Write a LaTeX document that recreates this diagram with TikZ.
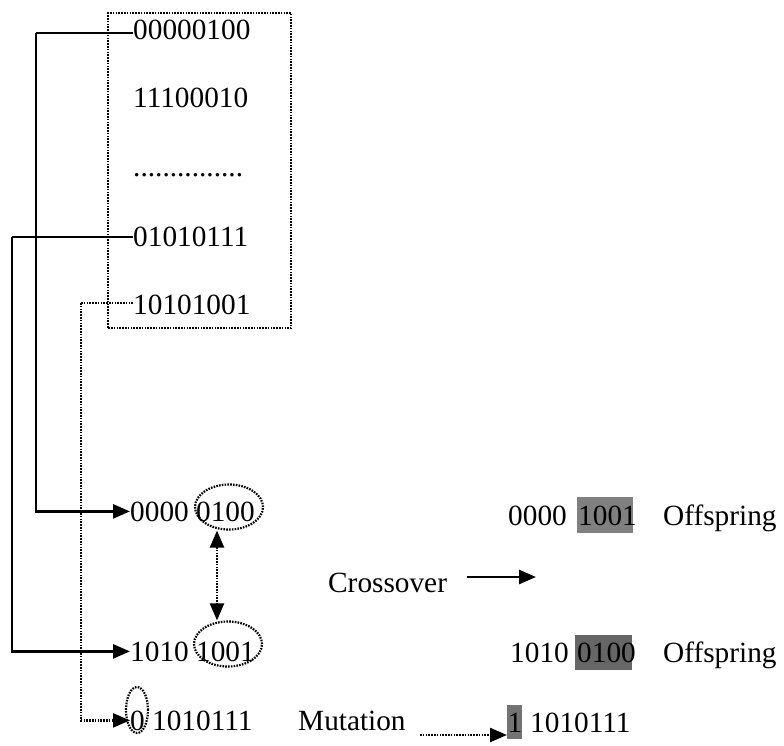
\documentclass[tikz,border=0pt]{standalone}
\usepackage{fontspec}
\setmainfont{Liberation Serif}
\usetikzlibrary{arrows.meta,shapes.geometric}
\begin{document}
\begin{tikzpicture}[x=1pt,y=-1pt,
  txt/.style={inner sep=0pt,anchor=base west,font=\fontsize{29.3}{34}\selectfont},
  solidline/.style={line width=2.6pt},
  dotline/.style={line width=2.2pt,dash pattern=on 1.6pt off 1.2pt},
  tip/.style={-{Triangle[length=17pt,width=14pt]}},
  shade/.style={inner sep=0pt,draw=none},
  ring/.style={ellipse,draw,dotline,inner sep=0pt}]
\useasboundingbox (0,0) rectangle (784,746);
% population box
\node[draw,dotline,minimum width=183pt,minimum height=315pt,inner sep=0pt,anchor=north west] (pop) at (107,12) {};
\node[txt] (p1) at (133,40) {00000100};
\node[txt] (p2) at (133,108) {11100010};
\node[txt] (p3) at (133,177) {...............};
\node[txt] (p4) at (133,246) {01010111};
\node[txt] (p5) at (133,314) {10101001};
% parents
\node[txt] (c1) at (130,521) {0000 0100};
\node[txt] (c2) at (130,661) {1010 1001};
\node[txt] (c3) at (130,730) {0 1010111};
\node[ring,minimum width=68pt,minimum height=45pt] (e1) at (229,507) {};
\node[ring,minimum width=68pt,minimum height=45pt] (e2) at (228,644) {};
\node[ring,minimum width=22pt,minimum height=46pt] (e3) at (137,710) {};
% connectors
\coordinate (k1) at (36,33);
\coordinate (k2) at (12,237);
\coordinate (k3) at (81,303);
\draw[solidline] (133,33) -- (k1);
\draw[solidline,tip] (k1) |- (c1.west);
\draw[solidline] (133,237) -- (k2);
\draw[solidline,tip] (k2) |- (c2.west);
\draw[dotline] (133,303) -- (k3);
\draw[dotline,tip] (k3) |- (c3.west);
\draw[dotline,{Triangle[length=17pt,width=14pt]}-{Triangle[length=17pt,width=14pt]}] (e1.south -| 217,0) -- (e2.north -| 217,0);
% crossover
\node[txt] (cx) at (328,592) {Crossover};
\coordinate (cxa) at (536,577);
\draw[solidline,tip] (467,577) -- (cxa);
% offspring 1
\node[txt] (o1a) at (508,525) {0000};
\node[shade,fill=black!50,minimum width=56pt,minimum height=36pt,anchor=north west] (o1b) at (577,497) {};
\node[txt] at (578,525) {1001};
\node[txt] (o1c) at (663,525) {Offspring};
% offspring 2
\node[txt] (o2a) at (510,662) {1010};
\node[shade,fill=black!60,minimum width=57pt,minimum height=35pt,anchor=north west] (o2b) at (575,635) {};
\node[txt] at (577,662) {0100};
\node[txt] (o2c) at (663,662) {Offspring};
% mutation
\node[txt] (mu) at (298,730) {Mutation};
\node[shade,fill=black!55,minimum width=15pt,minimum height=34pt,anchor=north west] (m1) at (507,705) {};
\node[txt] at (507.5,732) {1};
\node[txt] (m2) at (530,732) {1010111};
\draw[dotline,tip] (420,735) -- (m1.west |- 0,735);
\end{tikzpicture}
\end{document}
